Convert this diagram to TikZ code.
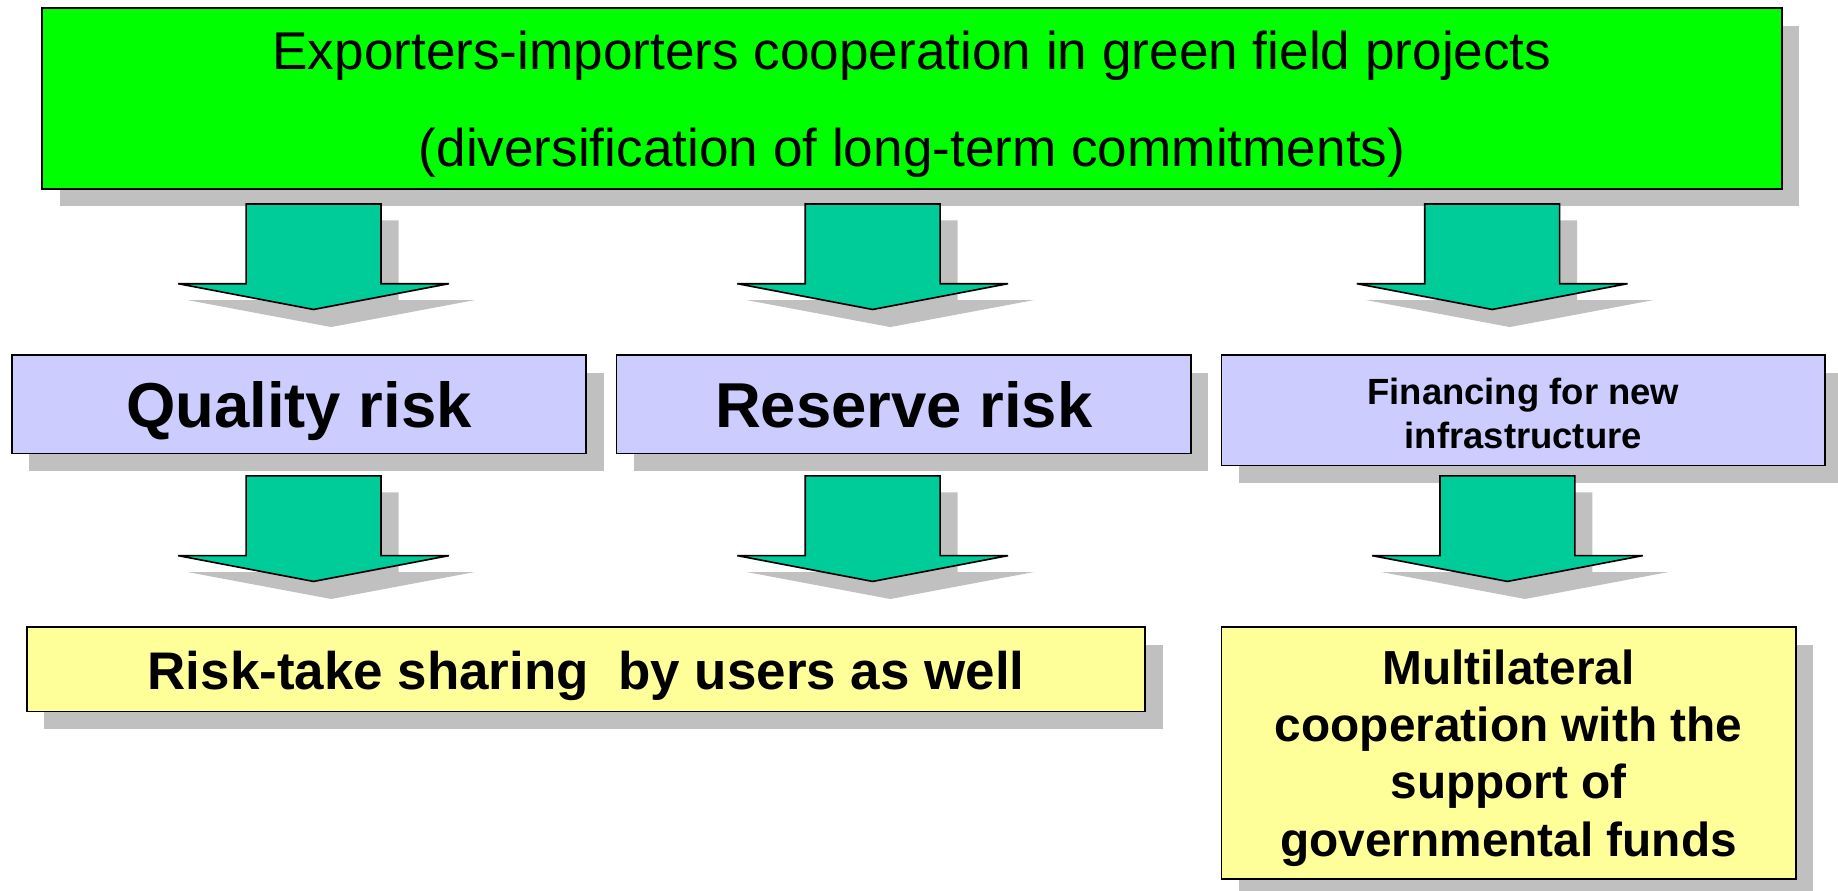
\documentclass[tikz,border=0pt]{standalone}
\usepackage{fontspec}
\setmainfont{Liberation Sans}
\usetikzlibrary{calc}
\usetikzlibrary{shadows}

\definecolor{goalgreen}{HTML}{00FF00}
\definecolor{arrowteal}{HTML}{00CC99}
\definecolor{riskblue}{HTML}{CCCCFF}
\definecolor{answeryellow}{HTML}{FFFF99}
\definecolor{shadowgray}{HTML}{C0C0C0}

\tikzset{
    box/.style={draw=black, line width=0.8pt, inner sep=0pt, align=center,
        general shadow={fill=shadowgray, shadow xshift=8.5pt, shadow yshift=-8.5pt}},
    flowarrow/.pic={
        \fill[shadowgray] (-42.5,14) -- (72.5,14) -- (72.5,82) -- (137.5,82)
            -- (15,105) -- (-107.5,82) -- (-42.5,82) -- cycle;
        \draw[fill=arrowteal, line width=0.8pt] (-57.5,0) -- (57.5,0) -- (57.5,68)
            -- (115.5,68) -- (0,90) -- (-115.5,68) -- (-57.5,68) -- cycle;
    }
}

\begin{document}
\begin{tikzpicture}[x=0.2mm, y=-0.2mm]
            \useasboundingbox (0,0) rectangle (1568,760);
            \node[box, fill=goalgreen, minimum width=296.8mm, minimum height=30.8mm,
                font=\fontsize{25.8}{47.2}\selectfont] (GOAL) at (778,84)
                {\rule{0pt}{24.5pt}Exporters-importers cooperation in green field projects\\(diversification of long-term commitments)};
            \node[box, fill=riskblue, minimum width=98mm, minimum height=16.8mm,
                text height=22.5pt, text depth=0.3pt,
                font=\bfseries\fontsize{30.8}{36}\selectfont] (QUAL) at (255,345) {Quality risk};
            \node[box, fill=riskblue, minimum width=98mm, minimum height=16.8mm,
                text height=22.5pt, text depth=0.3pt,
                font=\bfseries\fontsize{30.8}{36}\selectfont] (RES) at (771,345) {Reserve risk};
            \node[box, fill=riskblue, minimum width=103mm, minimum height=18.8mm,
                font=\bfseries\fontsize{17.7}{21.6}\selectfont] (FIN) at (1299.5,350)
                {\rule{0pt}{15.8pt}Financing for new\\infrastructure};
            \node[box, fill=answeryellow, minimum width=190.8mm, minimum height=14.4mm,
                text height=25.4pt, text depth=5.4pt,
                font=\bfseries\fontsize{25.7}{30}\selectfont] (SHARE) at (500,571) {Risk-take sharing \ by users as well};
            \node[box, fill=answeryellow, minimum width=98mm, minimum height=43mm,
                font=\bfseries\fontsize{23.2}{27.9}\selectfont] (MULTI) at (1287,642.5)
                {\rule{0pt}{21.5pt}Multilateral\\cooperation with the\\support of\\governmental funds};
            \coordinate (goal qual) at (267.5,174);
            \coordinate (goal res) at (744.5,174);
            \coordinate (goal fin) at (1273,174);
            \coordinate (qual share) at (267.5,406);
            \coordinate (res share) at (744.5,406);
            \coordinate (fin multi) at (1286,406);
            \pic at (goal qual) {flowarrow};
            \pic at (goal res) {flowarrow};
            \pic at (goal fin) {flowarrow};
            \pic at (qual share) {flowarrow};
            \pic at (res share) {flowarrow};
            \pic at (fin multi) {flowarrow};
        \end{tikzpicture}
\end{document}
